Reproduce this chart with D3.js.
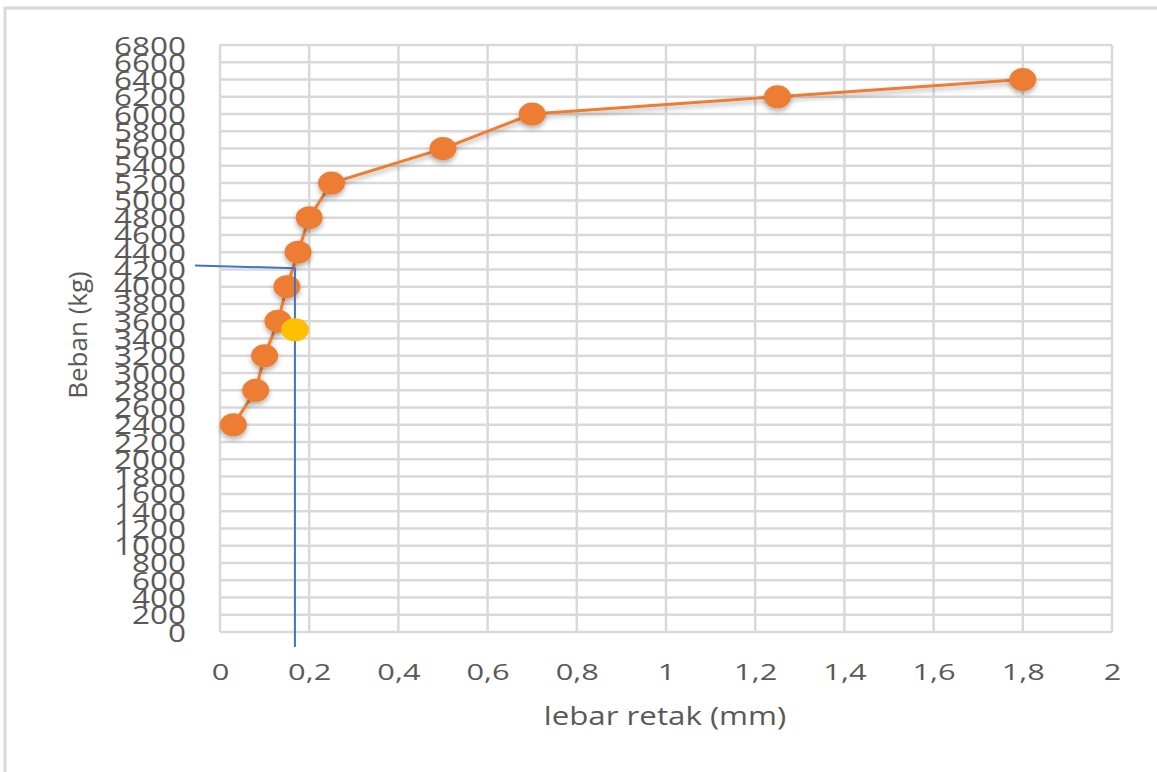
<!DOCTYPE html>
<html>
<head>
<meta charset="utf-8">
<script src="https://cdn.jsdelivr.net/npm/d3@7"></script>
<style>
  html, body { margin: 0; padding: 0; background: #fff; }
  svg { display: block; font-family: "Open Sans", sans-serif; }
  .tick-label { fill: #595959; }
  .axis-title { fill: #595959; }
</style>
</head>
<body>
<div id="chart"></div>
<script>
// Data
var crackWidth = [0.03, 0.08, 0.10, 0.13, 0.15, 0.175, 0.20, 0.25, 0.50, 0.70, 1.25, 1.80];
var load = [2400, 2800, 3200, 3600, 4000, 4400, 4800, 5200, 5600, 6000, 6200, 6400];

// Marked point and its guide lines
var markX = [0.168];
var markY = [3500];
var guideX = [-0.056, 0.168, 0.168];
var guideY = [4245, 4215, -175];

// Tick labels
var xTicks = [0, 0.2, 0.4, 0.6, 0.8, 1, 1.2, 1.4, 1.6, 1.8, 2];
var yTicks = d3.range(0, 6801, 200);

var width = 1157,
    height = 772;

var x = d3.scaleLinear().domain([0, 2]).range([220, 1112]);
var y = d3.scaleLinear().domain([0, 6800]).range([632, 45]);

var svg = d3.select('#chart')
  .append('svg')
    .attr('width', width)
    .attr('height', height);

// Shadow for the markers
var defs = svg.append('defs');
defs.append('filter')
    .attr('id', 'shadow')
    .attr('x', '-50%').attr('y', '-50%')
    .attr('width', '200%').attr('height', '200%')
  .append('feDropShadow')
    .attr('dx', 0).attr('dy', 3)
    .attr('stdDeviation', 2.5)
    .attr('flood-color', '#000')
    .attr('flood-opacity', 0.3);

// Background and outer frame
svg.append('rect')
  .attr('width', width).attr('height', height)
  .attr('fill', '#fff');

svg.append('path')
  .attr('d', 'M5,' + height + ' V8 H' + width)
  .attr('fill', 'none')
  .attr('stroke', '#d9d9d9')
  .attr('stroke-width', 3);

// Grid lines
svg.append('g')
  .selectAll('line')
  .data(yTicks)
  .enter()
    .append('line')
      .attr('x1', x(0))
      .attr('x2', x(2))
      .attr('y1', function(d){ return y(d); })
      .attr('y2', function(d){ return y(d); })
      .attr('stroke', '#d9d9d9')
      .attr('stroke-width', 2.5);

svg.append('g')
  .selectAll('line')
  .data(xTicks)
  .enter()
    .append('line')
      .attr('x1', function(d){ return x(d); })
      .attr('x2', function(d){ return x(d); })
      .attr('y1', y(0))
      .attr('y2', y(6800))
      .attr('stroke', '#d9d9d9')
      .attr('stroke-width', 2.5);

// Y axis labels
var yAxis = svg.append('g')
  .attr('transform', 'translate(' + x(0) + ',0)')
  .call(d3.axisLeft(y).tickValues(yTicks).tickSize(0).tickFormat(d3.format('d')));
yAxis.select('.domain').remove();
yAxis.selectAll('text')
  .attr('class', 'tick-label')
  .attr('x', 0)
  .attr('dy', '0.36em')
  .attr('font-size', 25)
  .attr('font-family', '"Open Sans", sans-serif')
  .attr('text-anchor', 'end')
  .attr('transform', 'translate(-34,0) scale(1.26,1)');

// X axis labels
var comma = function(d){ return d3.format('.1~f')(d).replace('.', ','); };
var xAxis = svg.append('g')
  .attr('transform', 'translate(0,' + y(0) + ')')
  .call(d3.axisBottom(x).tickValues(xTicks).tickSize(0).tickFormat(comma));
xAxis.select('.domain').remove();
xAxis.selectAll('text')
  .attr('class', 'tick-label')
  .attr('y', 48)
  .attr('dy', 0)
  .attr('font-size', 22)
  .attr('font-family', '"Open Sans", sans-serif')
  .attr('transform', 'scale(1.4,1)');

// Axis titles
svg.append('text')
  .attr('class', 'axis-title')
  .attr('transform', 'translate(665,725) scale(1.25,1)')
  .attr('text-anchor', 'middle')
  .attr('font-size', 25)
  .text('lebar retak (mm)');

svg.append('text')
  .attr('class', 'axis-title')
  .attr('transform', 'translate(87,335) rotate(-90)')
  .attr('text-anchor', 'middle')
  .attr('font-size', 26)
  .text('Beban (kg)');

// Series line
var line = d3.line()
  .x(function(d){ return x(d[0]); })
  .y(function(d){ return y(d[1]); });

svg.append('path')
  .datum(d3.zip(crackWidth, load))
  .attr('d', line)
  .attr('fill', 'none')
  .attr('stroke', '#ED7D31')
  .attr('stroke-width', 3)
  .attr('filter', 'url(#shadow)');

// Series markers
svg.append('g')
  .selectAll('ellipse')
  .data(d3.zip(crackWidth, load))
  .enter()
    .append('ellipse')
      .attr('cx', function(d){ return x(d[0]); })
      .attr('cy', function(d){ return y(d[1]); })
      .attr('rx', 13.5)
      .attr('ry', 11.5)
      .attr('fill', '#ED7D31')
      .attr('filter', 'url(#shadow)');

// Guide lines
svg.append('path')
  .datum(d3.zip(guideX, guideY))
  .attr('d', line)
  .attr('fill', 'none')
  .attr('stroke', '#4472C4')
  .attr('stroke-width', 2);

// Marked point
svg.append('g')
  .selectAll('ellipse')
  .data(d3.zip(markX, markY))
  .enter()
    .append('ellipse')
      .attr('cx', function(d){ return x(d[0]); })
      .attr('cy', function(d){ return y(d[1]); })
      .attr('rx', 14)
      .attr('ry', 11.5)
      .attr('fill', '#FFC000');
</script>
</body>
</html>
